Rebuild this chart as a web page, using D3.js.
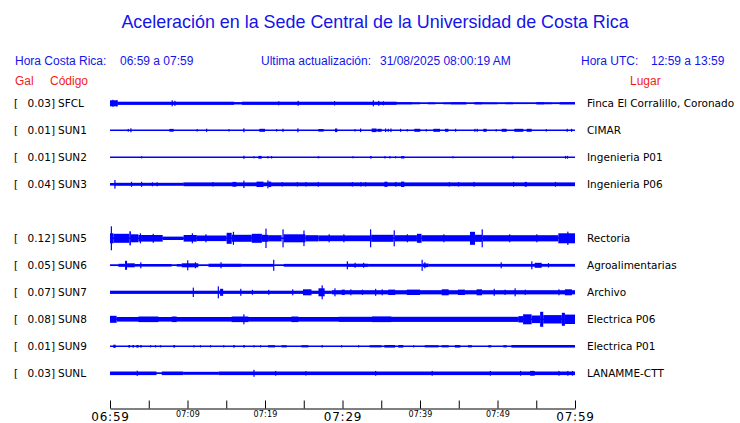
<!DOCTYPE html>
<html>
<head>
<meta charset="utf-8">
<script src="https://cdn.jsdelivr.net/npm/d3@7"></script>
<style>
  body { margin: 0; background: #fff; }
</style>
</head>
<body>
<div id="chart"></div>
<script>
// station rows, top to bottom (slot 4 = SUN4 has no trace)
var codes  = ['SFCL', 'SUN1', 'SUN2', 'SUN3', 'SUN5', 'SUN6', 'SUN7', 'SUN8', 'SUN9', 'SUNL']
var slots  = [0, 1, 2, 3, 5, 6, 7, 8, 9, 10]
var peaks  = [0.03, 0.01, 0.01, 0.04, 0.12, 0.05, 0.07, 0.08, 0.01, 0.03]
var places = ['Finca El Corralillo, Coronado', 'CIMAR', 'Ingenieria P01', 'Ingenieria P06',
  'Rectoria', 'Agroalimentarias', 'Archivo', 'Electrica P06', 'Electrica P01', 'LANAMME-CTT']

// trace envelopes: [start minute, end minute, half amplitude in Gal]
var sfcl = [[0,1,0.03],[1,16,0.016],[16,17,0.012],[17,37,0.016],[37,39,0.012],[39,40,0.01],[40,41,0.005],
  [41,42,0.01],[42,43,0.005],[43,44,0.01],[44,46,0.012],[46,47,0.005],[47,48,0.012],[48,50,0.01],[50,51,0.008],
  [51,52,0.01],[52,54,0.008],[54,55,0.005],[55,56,0.012],[56,57,0.01],[57,58,0.008],[58,60,0.012],
  [0.3,0.45,0.035],[0.8,0.95,0.03],[7.95,8.1,0.03],[8.3,8.45,0.025],[21.7,21.85,0.02],[24.2,24.35,0.025],
  [28.9,29.05,0.022],[33.9,34.05,0.03],[34.6,34.75,0.025],[35.2,35.35,0.02]]
var sun1 = [[2.28,2.4,0.014],[2.62,2.75,0.02],[7.66,8.22,0.014],[11.18,11.3,0.012],[12.39,12.5,0.016],
  [15.27,15.4,0.012],[17.2,17.33,0.02],[19.27,20.0,0.015],[21.42,21.55,0.012],[22.24,22.37,0.016],
  [24.17,24.3,0.02],[26.88,27.57,0.013],[29.03,29.33,0.018],[31.53,31.66,0.012],[32.26,32.4,0.018],
  [33.76,34.4,0.018],[34.5,35.05,0.015],[35.48,35.6,0.018],[35.83,35.95,0.015],[36.17,36.3,0.018],
  [37.42,37.55,0.015],[38.28,38.4,0.012],[39.27,40.04,0.015],[40.73,40.86,0.012],[41.72,42.58,0.015],
  [43.23,43.66,0.015],[44.52,44.65,0.015],[47.01,47.14,0.015],[47.31,47.44,0.015],[48.17,48.6,0.015],
  [49.76,49.9,0.012],[50.54,51.18,0.015],[52.17,53.33,0.015],[53.76,54.41,0.015],[56.22,56.35,0.012],
  [58.92,59.05,0.015],[59.48,59.6,0.015]]
var sun2 = [[4.0,4.12,0.01],[17.2,17.32,0.016],[18.5,18.62,0.01],[19.14,19.57,0.014],[20.3,20.42,0.012],
  [20.77,20.9,0.012],[26.8,27.0,0.01],[31.27,31.4,0.01],[33.55,33.76,0.012],[35.4,35.52,0.012],
  [36.04,36.16,0.012],[36.77,36.9,0.01],[37.55,37.98,0.012],[44.17,44.3,0.01],[51.91,52.05,0.014],
  [58.7,58.8,0.014],[58.95,59.05,0.014]]
var sun3 = [[0,0.5,0.013],[0.5,9.46,0.015],[9.46,60,0.019],
  [0.56,0.7,0.043],[2.7,2.83,0.025],[4.0,4.13,0.025],[5.4,5.5,0.02],[6.0,6.1,0.02],[13.2,13.3,0.022],
  [15.8,16.3,0.024],[17.2,17.33,0.037],[18.9,19.8,0.027],[20.3,20.45,0.04],[20.45,20.8,0.027],
  [22.15,22.28,0.022],[24.1,24.22,0.022],[25.2,25.32,0.022],[26.8,26.93,0.024],[31.2,31.3,0.022],
  [32.3,32.4,0.022],[32.9,33.0,0.022],[35.4,35.8,0.026],[36.8,36.92,0.024],[37.55,37.98,0.027],
  [43.7,43.8,0.022],[44.9,45.0,0.022],[46.9,47.0,0.024],[52.0,52.1,0.024],[53.5,53.8,0.024],[57.4,57.5,0.024]]
var sun5 = [[0,0.45,0.05],[0.1,0.25,0.12],[0.45,2.5,0.045],[2.5,2.7,0.07],[2.7,3.66,0.04],[3.66,6.8,0.033],
  [3.85,4.0,0.05],[5.5,5.6,0.045],[6.8,9.5,0.017],[9.5,11.2,0.033],[10.55,10.7,0.05],[11.2,15.05,0.028],
  [12.3,12.4,0.04],[15.05,15.7,0.055],[15.85,16.0,0.065],[15.7,18.3,0.035],[18.3,19.6,0.045],
  [19.6,20.4,0.035],[20.05,20.2,0.097],[20.4,22.15,0.031],[22.25,22.4,0.09],[22.4,25.2,0.04],
  [24.95,25.1,0.078],[25.2,26.9,0.031],[26.9,33.55,0.029],[28.2,28.3,0.04],[30.1,30.2,0.04],
  [33.55,33.7,0.09],[33.7,36.6,0.035],[36.6,36.75,0.08],[36.75,39.6,0.031],[38.3,38.4,0.04],
  [39.6,40.2,0.045],[40.2,46.45,0.031],[43.0,43.1,0.04],[46.45,47.1,0.065],[47.1,48.0,0.035],
  [47.95,48.1,0.09],[48.1,57.85,0.031],[51.5,51.6,0.04],[55.0,55.1,0.04],[57.85,60,0.05],[59.0,59.15,0.067]]
var sun6 = [[0,1.08,0.006],[1.08,1.94,0.015],[1.94,2.2,0.045],[2.2,3.2,0.02],[3.2,7.96,0.013],
  [3.9,4.05,0.03],[7.96,8.6,0.004],[8.6,9.25,0.013],[9.25,11.4,0.02],[9.95,10.1,0.05],[10.95,11.1,0.03],
  [11.4,12.7,0.003],[12.7,17.0,0.016],[14.25,14.4,0.03],[17.0,21.1,0.014],[21.05,21.2,0.055],
  [21.2,22.4,0.004],[22.4,30.6,0.014],[30.55,30.7,0.04],[30.6,33.3,0.016],[31.55,31.7,0.025],
  [32.65,32.8,0.025],[33.3,40.2,0.014],[40.2,40.35,0.055],[40.35,41.1,0.018],[40.55,40.7,0.03],
  [41.1,60,0.014],[50.4,50.55,0.03],[54.35,54.5,0.04],[54.8,55.7,0.025],[56.5,56.65,0.022]]
var sun7 = [[0,28.6,0.016],[28.6,60,0.021],
  [10.67,10.8,0.047],[13.9,14.05,0.06],[14.2,14.6,0.035],[16.8,16.95,0.035],[18.3,18.45,0.025],
  [20.4,20.55,0.025],[23.5,23.65,0.03],[24.9,26.0,0.03],[26.9,27.7,0.04],[27.3,27.45,0.07],
  [28.95,29.1,0.04],[29.9,30.3,0.027],[31.0,31.15,0.03],[32.5,32.65,0.027],[34.2,34.35,0.035],
  [35.05,35.2,0.03],[35.9,36.8,0.027],[38.3,40.0,0.027],[42.8,43.7,0.03],[44.9,45.8,0.027],
  [47.3,48.0,0.03],[49.5,49.65,0.035],[50.9,51.05,0.027],[52.2,52.35,0.04],[53.5,53.65,0.027],
  [57.85,58.0,0.03],[58.7,59.6,0.03]]
var sun8 = [[0,0.86,0.035],[0.86,52.7,0.023],[3.66,6.24,0.028],[7.96,8.6,0.028],[15.7,17.85,0.028],
  [17.2,17.35,0.05],[23.4,24.3,0.028],[29.5,52.7,0.025],[33.8,36.3,0.028],[52.7,53.3,0.032],
  [53.3,54.4,0.05],[54.4,55.5,0.038],[55.5,55.9,0.075],[55.9,58.3,0.042],[58.3,58.7,0.065],[58.7,60,0.047]]
var sun9 = [[0.43,0.73,0.016],[2.37,2.6,0.013],[2.9,3.1,0.013],[3.4,3.7,0.013],[3.9,4.09,0.013],
  [5.16,5.28,0.011],[5.8,5.92,0.011],[6.45,6.57,0.011],[8.17,8.4,0.013],[10.75,10.87,0.011],
  [11.6,11.72,0.011],[12.9,13.02,0.011],[14.6,14.75,0.011],[15.9,16.1,0.013],[17.2,17.4,0.013],
  [18.5,18.62,0.011],[19.35,19.47,0.011],[20.4,21.3,0.011],[22.15,22.8,0.011],[24.7,25.6,0.011],
  [27.3,27.45,0.013],[29.8,29.92,0.011],[32.0,32.12,0.011],[33.5,35.05,0.011],[35.4,36.8,0.013],
  [37.2,37.85,0.013],[39.1,39.22,0.011],[40.6,42.4,0.011],[42.8,43.7,0.011],[44.5,45.2,0.013],
  [46.2,46.7,0.011],[48.8,49.2,0.011],[50.75,51.2,0.011],[51.8,60,0.013]]
var sunl = [[0,6.0,0.018],[3.44,3.57,0.026],[6.0,6.67,0.004],[6.67,9.46,0.018],[9.46,14.0,0.015],
  [14.0,60,0.018],[18.5,18.63,0.035],[21.3,21.43,0.024],[25.2,25.33,0.022],[34.2,34.33,0.024],
  [41.5,41.63,0.024],[49.0,49.13,0.024],[52.9,53.03,0.024],[54.2,54.8,0.024],[57.85,57.98,0.024],
  [59.0,59.13,0.024],[59.6,59.73,0.024]]
var traces = [sfcl, sun1, sun2, sun3, sun5, sun6, sun7, sun8, sun9, sunl]

// time axis: minutes after 06:59
var tickMinutes = [0, 5, 10, 15, 20, 25, 30, 35, 40, 45, 50, 55, 60]
var tickLabels  = ['06:59', '', '07:09', '', '07:19', '', '07:29', '', '07:39', '', '07:49', '', '07:59']
var bigTicks    = ['06:59', '07:29', '07:59']

var blue = '#1414ea', red = '#f21c1c', trace = '#0000ff'
var sans = '"Liberation Sans", Arial, sans-serif'
var dv = '"DejaVu Sans", sans-serif'

var width = 740, height = 423

var svg = d3.select('#chart').append('svg')
    .attr('width', width)
    .attr('height', height)
    .style('display', 'block')

var x = d3.scaleLinear().domain([0, 60]).range([110, 575])
var row = d3.scaleLinear().domain([0, 10]).range([103.3, 373.3])
var amp = d3.scaleLinear().domain([0, 0.12]).range([0, 12])   // shared Gal -> px

// title and header
svg.append('text')
    .attr('x', 375).attr('y', 28)
    .attr('text-anchor', 'middle')
    .style('font-family', sans).style('font-size', '17.9px')
    .style('fill', blue)
    .text('Aceleración en la Sede Central de la Universidad de Costa Rica')

var header = [
    { x: 15, t: 'Hora Costa Rica:' }, { x: 120, t: '06:59 a 07:59' },
    { x: 261, t: 'Ultima actualización:' }, { x: 380, t: '31/08/2025 08:00:19 AM' },
    { x: 581, t: 'Hora UTC:' }, { x: 651, t: '12:59 a 13:59' }
]
svg.selectAll('.hdr').data(header).enter().append('text')
    .attr('class', 'hdr')
    .attr('x', function (d) { return d.x }).attr('y', 65)
    .style('font-family', sans).style('font-size', '12px')
    .style('fill', blue)
    .text(function (d) { return d.t })

var cols = [{ x: 15, t: 'Gal' }, { x: 50, t: 'Código' }, { x: 630, t: 'Lugar' }]
svg.selectAll('.col').data(cols).enter().append('text')
    .attr('class', 'col')
    .attr('x', function (d) { return d.x }).attr('y', 85)
    .style('font-family', sans).style('font-size', '12px')
    .style('fill', red)
    .text(function (d) { return d.t })

// one group per station
var rows = svg.selectAll('.row').data(codes).enter().append('g')
    .attr('class', 'row')
    .attr('transform', function (d, i) { return 'translate(0,' + row(slots[i]) + ')' })

rows.append('text').attr('x', 14).attr('dy', '0.36em')
    .style('font-family', dv).style('font-size', '10.5px').text('[')
rows.append('text').attr('x', 55).attr('dy', '0.36em').attr('text-anchor', 'end')
    .style('font-family', dv).style('font-size', '10.5px')
    .text(function (d, i) { return peaks[i].toFixed(2) + ']' })
rows.append('text').attr('x', 58).attr('dy', '0.36em')
    .style('font-family', dv).style('font-size', '10.5px')
    .text(function (d) { return d })
rows.append('text').attr('x', 587).attr('dy', '0.36em')
    .style('font-family', dv).style('font-size', '10.5px')
    .text(function (d, i) { return places[i] })

// baseline of each trace
rows.append('line')
    .attr('x1', x(0)).attr('x2', x(60))
    .attr('stroke', trace).attr('stroke-width', 1.5)

// envelope blocks
rows.selectAll('rect')
    .data(function (d, i) { return traces[i] })
    .enter().append('rect')
    .attr('x', function (d) { return x(d[0]) })
    .attr('width', function (d) { return Math.max(1.2, x(d[1]) - x(d[0])) })
    .attr('y', function (d) { return -Math.max(0.75, amp(d[2])) })
    .attr('height', function (d) { return 2 * Math.max(0.75, amp(d[2])) })
    .attr('fill', trace)

// time axis with ticks pointing up
var axis = d3.axisBottom(x)
    .tickValues(tickMinutes)
    .tickSize(-8)
    .tickSizeOuter(0)
    .tickFormat(function (d, i) { return tickLabels[i] })

var ax = svg.append('g')
    .attr('transform', 'translate(0,408.5)')
    .call(axis)
ax.select('.domain').attr('stroke', '#000')
ax.selectAll('.tick line').attr('stroke', '#000')
ax.selectAll('.tick text')
    .attr('fill', '#000')
    .attr('dy', null)
    .attr('y', function (d, i) { return bigTicks.indexOf(tickLabels[i]) >= 0 ? 12.3 : 8.5 })
    .style('font-family', dv)
    .style('letter-spacing', function (d, i) { return bigTicks.indexOf(tickLabels[i]) >= 0 ? '0.8px' : '0.2px' })
    .style('font-size', function (d, i) { return bigTicks.indexOf(tickLabels[i]) >= 0 ? '12px' : '8px' })
</script>
</body>
</html>
